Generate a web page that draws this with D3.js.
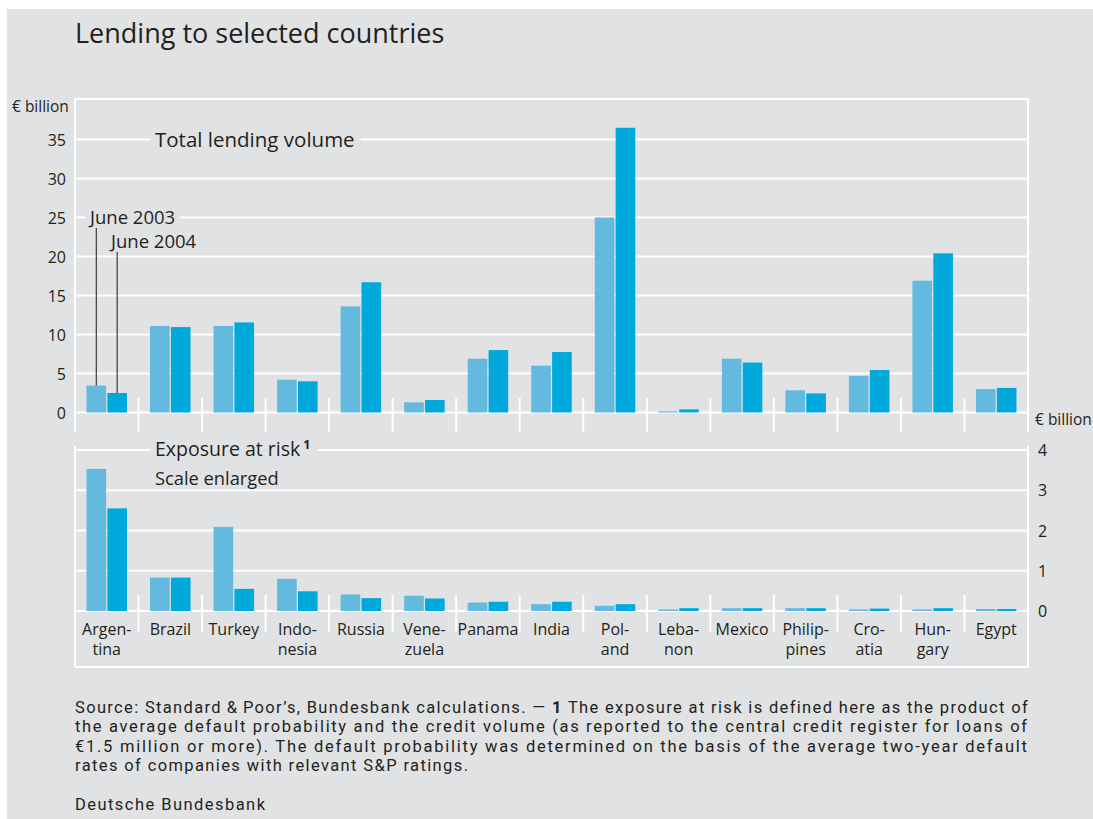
<!DOCTYPE html>
<html><head><meta charset="utf-8">
<script src="https://cdn.jsdelivr.net/npm/d3@7"></script>
<style>
html,body{margin:0;padding:0;background:#fff;}
svg{display:block;}
text{font-family:"Open Sans","Noto Sans",sans-serif;fill:#231f20;}
</style></head><body>
<svg id="chart" width="1093" height="819"></svg>
<script>
// ---- data ----
const categories = [["Argen-","tina"],["Brazil"],["Turkey"],["Indo-","nesia"],["Russia"],["Vene-","zuela"],["Panama"],["India"],["Pol-","and"],["Leba-","non"],["Mexico"],["Philip-","pines"],["Cro-","atia"],["Hun-","gary"],["Egypt"]];
const seriesNames = ["June 2003","June 2004"];
const lending2003 = [3.45, 11.1, 11.1, 4.2, 13.6, 1.3, 6.9, 6.0, 25.0, 0.15, 6.9, 2.85, 4.7, 16.9, 3.0];
const lending2004 = [2.5, 10.95, 11.55, 4.0, 16.7, 1.6, 8.0, 7.75, 36.5, 0.4, 6.4, 2.45, 5.45, 20.4, 3.15];
const exposure2003 = [3.53, 0.83, 2.09, 0.80, 0.41, 0.38, 0.21, 0.17, 0.13, 0.04, 0.07, 0.07, 0.04, 0.04, 0.05];
const exposure2004 = [2.55, 0.83, 0.55, 0.49, 0.32, 0.31, 0.23, 0.23, 0.17, 0.07, 0.07, 0.07, 0.06, 0.07, 0.05];
const topTicks = [0,5,10,15,20,25,30,35];
const bottomTicks = [0,1,2,3,4];
const unitLabel = "€ billion";
const titleText = "Lending to selected countries";
const footnoteLines = [
  ["Source: Standard\u2009&\u2009Poor’s, Bundesbank calculations. — ", "1", " The exposure at risk is defined here as the product of"],
  ["the average default probability and the credit volume (as reported to the central credit register for loans of"],
  ["€1.5 million or more). The default probability was determined on the basis of the average two-year default"],
  ["rates of companies with relevant S&P ratings."]
];
const sourceText = "Deutsche Bundesbank";

// ---- styles ----
const BG = "#e1e2e4", LIGHT = "#63b9de", DARK = "#00a9db";

const svg = d3.select("#chart");
svg.append("rect").attr("x",7).attr("y",9).attr("width",1086).attr("height",810).attr("fill",BG);

const L = 75, R = 1028, T = 99, B = 667;
const keys = categories.map((c,i)=>i);
const x0 = d3.scaleBand().domain(keys).range([L,R]).paddingInner(0).paddingOuter(0);
const x1 = d3.scaleBand().domain(seriesNames).range([11.5,52]).paddingInner(0.06);
const yTop = d3.scaleLinear().domain([0,40]).range([412.5,100.5]);
const yBot = d3.scaleLinear().domain([0,4]).range([611,450]);

// frame
const frame = svg.append("g").attr("stroke","#fff").attr("stroke-width",2).attr("fill","none");
frame.append("line").attr("x1",L).attr("x2",R).attr("y1",T).attr("y2",T);
frame.append("line").attr("x1",L).attr("x2",R).attr("y1",B).attr("y2",B);
frame.append("line").attr("x1",L).attr("x2",L).attr("y1",T).attr("y2",432);
frame.append("line").attr("x1",R).attr("x2",R).attr("y1",T).attr("y2",432);
frame.append("line").attr("x1",L).attr("x2",L).attr("y1",446).attr("y2",B);
frame.append("line").attr("x1",R).attr("x2",R).attr("y1",446).attr("y2",B);

// gridlines
svg.append("g").selectAll("line").data(topTicks).join("line")
  .attr("x1",L).attr("x2",R).attr("y1",d=>yTop(d)).attr("y2",d=>yTop(d))
  .attr("stroke","#fff").attr("stroke-width",2);
svg.append("g").selectAll("line").data(bottomTicks).join("line")
  .attr("x1",L).attr("x2",R).attr("y1",d=>yBot(d)).attr("y2",d=>yBot(d))
  .attr("stroke","#fff").attr("stroke-width",2);

// separators
const seps = keys.slice(1);
svg.append("g").selectAll("line").data(seps).join("line")
  .attr("x1",d=>x0(d)).attr("x2",d=>x0(d)).attr("y1",398).attr("y2",432)
  .attr("stroke","#fff").attr("stroke-width",2);
svg.append("g").selectAll("line").data(seps).join("line")
  .attr("x1",d=>x0(d)).attr("x2",d=>x0(d)).attr("y1",595).attr("y2",632)
  .attr("stroke","#fff").attr("stroke-width",2);

// bars
function drawBars(vals, name, color, y){
  svg.append("g").selectAll("rect").data(vals).join("rect")
    .attr("x",(d,i)=>x0(i)+x1(name)).attr("width",x1.bandwidth())
    .attr("y",d=>y(d)).attr("height",d=>y(0)-y(d)).attr("fill",color);
}
drawBars(lending2003, seriesNames[0], LIGHT, yTop);
drawBars(lending2004, seriesNames[1], DARK, yTop);
drawBars(exposure2003, seriesNames[0], LIGHT, yBot);
drawBars(exposure2004, seriesNames[1], DARK, yBot);

// axes labels
const axL = d3.axisLeft(yTop).tickValues(topTicks).tickSize(0).tickPadding(0).tickFormat(d3.format("d"));
const gL = svg.append("g").attr("transform","translate(66,0)").call(axL);
gL.select(".domain").remove();
gL.selectAll("text").attr("font-size",16).attr("font-family","Open Sans").attr("fill","#231f20").attr("dy","0.35em");
const axR = d3.axisRight(yBot).tickValues(bottomTicks).tickSize(0).tickPadding(0).tickFormat(d3.format("d"));
const gR = svg.append("g").attr("transform","translate(1038,0)").call(axR);
gR.select(".domain").remove();
gR.selectAll("text").attr("font-size",16).attr("font-family","Open Sans").attr("fill","#231f20").attr("dy","0.35em");

svg.append("text").attr("x",12).attr("y",107).attr("dy","0.35em").attr("font-size",15.5).text(unitLabel);
svg.append("text").attr("x",1035).attr("y",420).attr("dy","0.35em").attr("font-size",15.5).text(unitLabel);

// title
svg.append("text").attr("x",75).attr("y",34).attr("dy","0.35em").attr("font-size",27).text(titleText);

// labels with background
function bgLabel(x, y, txt, size, padL, padR){
  const g = svg.append("g");
  const r = g.append("rect").attr("fill",BG);
  const t = g.append("text").attr("x",x).attr("y",y).attr("dy","0.35em").attr("font-size",size).text(txt);
  const w = t.node().getComputedTextLength();
  r.attr("x",x-padL).attr("y",y-6).attr("width",w+padL+padR).attr("height",12);
  return t;
}
bgLabel(155, 139.5, "Total lending volume", 20.5, 5, 6);
const exp = bgLabel(155, 449.5, "Exposure at risk", 19.5, 5, 18);
const ew = exp.node().getComputedTextLength();
svg.append("text").attr("x",155+ew+3).attr("y",445).attr("dy","0.35em").attr("font-size",12.5).attr("font-weight","bold").text("1");
svg.append("text").attr("x",155).attr("y",479).attr("dy","0.35em").attr("font-size",18.3).text("Scale enlarged");

// series labels with leader lines
const cx2003 = x0(0)+x1(seriesNames[0])+x1.bandwidth()/2;
const cx2004 = x0(0)+x1(seriesNames[1])+x1.bandwidth()/2;
bgLabel(90, 217.5, seriesNames[0], 18.5, 5, 5);
svg.append("text").attr("x",111).attr("y",241.5).attr("dy","0.35em").attr("font-size",18.5).text(seriesNames[1]);
svg.append("line").attr("x1",cx2003).attr("x2",cx2003).attr("y1",228).attr("y2",yTop(lending2003[0])).attr("stroke","#3a3a3a").attr("stroke-width",1.2);
svg.append("line").attr("x1",cx2004).attr("x2",cx2004).attr("y1",252).attr("y2",yTop(lending2004[0])).attr("stroke","#3a3a3a").attr("stroke-width",1.2);

// category labels
const cat = svg.append("g");
categories.forEach((lines,i)=>{
  lines.forEach((ln,j)=>{
    cat.append("text").attr("x",x0(i)+x0.bandwidth()/2).attr("y",629+j*20).attr("dy","0.35em")
      .attr("text-anchor","middle").attr("font-size",16).text(ln);
  });
});

const FW = [952, 952, 952, 393];
const FN_FONT = "Roboto, 'Open Sans', sans-serif";
function fitSpacing(t, str, target){
  const len = t.node().getComputedTextLength();
  if (len > target) t.attr("textLength",target).attr("lengthAdjust","spacingAndGlyphs");
  else t.style("letter-spacing", ((target-len)/(str.length-1))+"px");
}
footnoteLines.forEach((parts,i)=>{
  const t = svg.append("text").attr("x",75).attr("y",707+i*19.5).attr("dy","0.35em")
    .attr("font-size",16.5).style("font-family",FN_FONT);
  parts.forEach((p,k)=>{
    const s = t.append("tspan").text(p);
    if (p === "1" && parts.length>1) s.attr("font-weight","bold");
  });
  fitSpacing(t, parts.join(""), FW[i]);
});
const src = svg.append("text").attr("x",75).attr("y",804).attr("dy","0.35em").attr("font-size",16.5).style("font-family",FN_FONT).text(sourceText);
fitSpacing(src, sourceText, 190);
</script>
</body></html>
